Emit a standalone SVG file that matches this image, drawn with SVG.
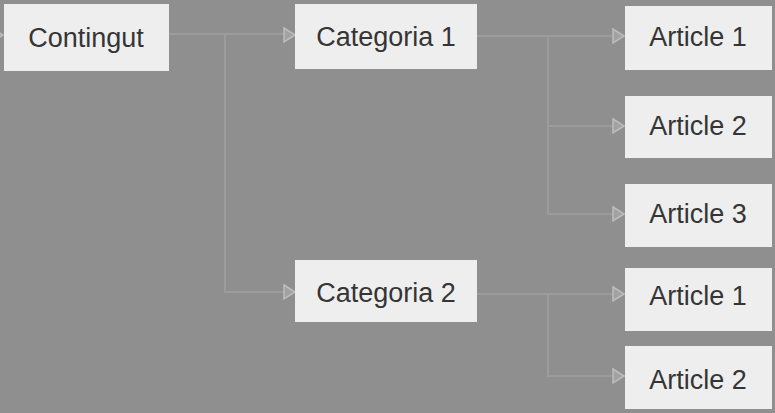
<svg xmlns="http://www.w3.org/2000/svg" width="775" height="413" viewBox="0 0 775 413">
<style>
.box{fill:#eeeeee}
.lbl{font-family:"Liberation Sans",Arial,sans-serif;font-size:27px;fill:#353535;text-anchor:middle}
.ln{fill:none;stroke:#9c9c9c;stroke-width:2}
.ah{fill:#a2a2a2;stroke:#bdbdbd;stroke-width:1.5}
</style>
<rect width="775" height="413" fill="#8f8f8f"/>
<g id="connectors">
<polyline class="ln" points="169,34 285,34"/>
<polyline class="ln" points="225,34 225,292 285,292"/>
<polyline class="ln" points="477,36 613,36"/>
<polyline class="ln" points="548,36 548,126 613,126"/>
<polyline class="ln" points="548,126 548,214 613,214"/>
<polyline class="ln" points="477,294 613,294"/>
<polyline class="ln" points="548,294 548,376 613,376"/>
<polygon class="ah" points="-8,28 3,35 -8,42"/>
<polygon class="ah" points="284,28 295,35 284,42"/>
<polygon class="ah" points="284,285 295,292 284,299"/>
<polygon class="ah" points="613,29 624,36 613,43"/>
<polygon class="ah" points="613,119 624,126 613,133"/>
<polygon class="ah" points="613,207 624,214 613,221"/>
<polygon class="ah" points="613,287 624,294 613,301"/>
<polygon class="ah" points="613,369 624,376 613,383"/>
</g>
<g id="contingut"><rect class="box" x="4" y="4" width="165" height="67"/><text class="lbl" x="86" y="47">Contingut</text></g>
<g id="categoria1"><rect class="box" x="295" y="4" width="182" height="65"/><text class="lbl" x="386" y="46">Categoria 1</text></g>
<g id="categoria2"><rect class="box" x="295" y="260" width="182" height="62"/><text class="lbl" x="386" y="302">Categoria 2</text></g>
<g id="c1article1"><rect class="box" x="625" y="6" width="147" height="64"/><text class="lbl" x="698" y="46">Article 1</text></g>
<g id="c1article2"><rect class="box" x="625" y="96" width="147" height="62"/><text class="lbl" x="698" y="135">Article 2</text></g>
<g id="c1article3"><rect class="box" x="625" y="184" width="147" height="63"/><text class="lbl" x="698" y="223">Article 3</text></g>
<g id="c2article1"><rect class="box" x="625" y="268" width="147" height="63"/><text class="lbl" x="698" y="305">Article 1</text></g>
<g id="c2article2"><rect class="box" x="625" y="346" width="147" height="63"/><text class="lbl" x="698" y="389">Article 2</text></g>
</svg>
